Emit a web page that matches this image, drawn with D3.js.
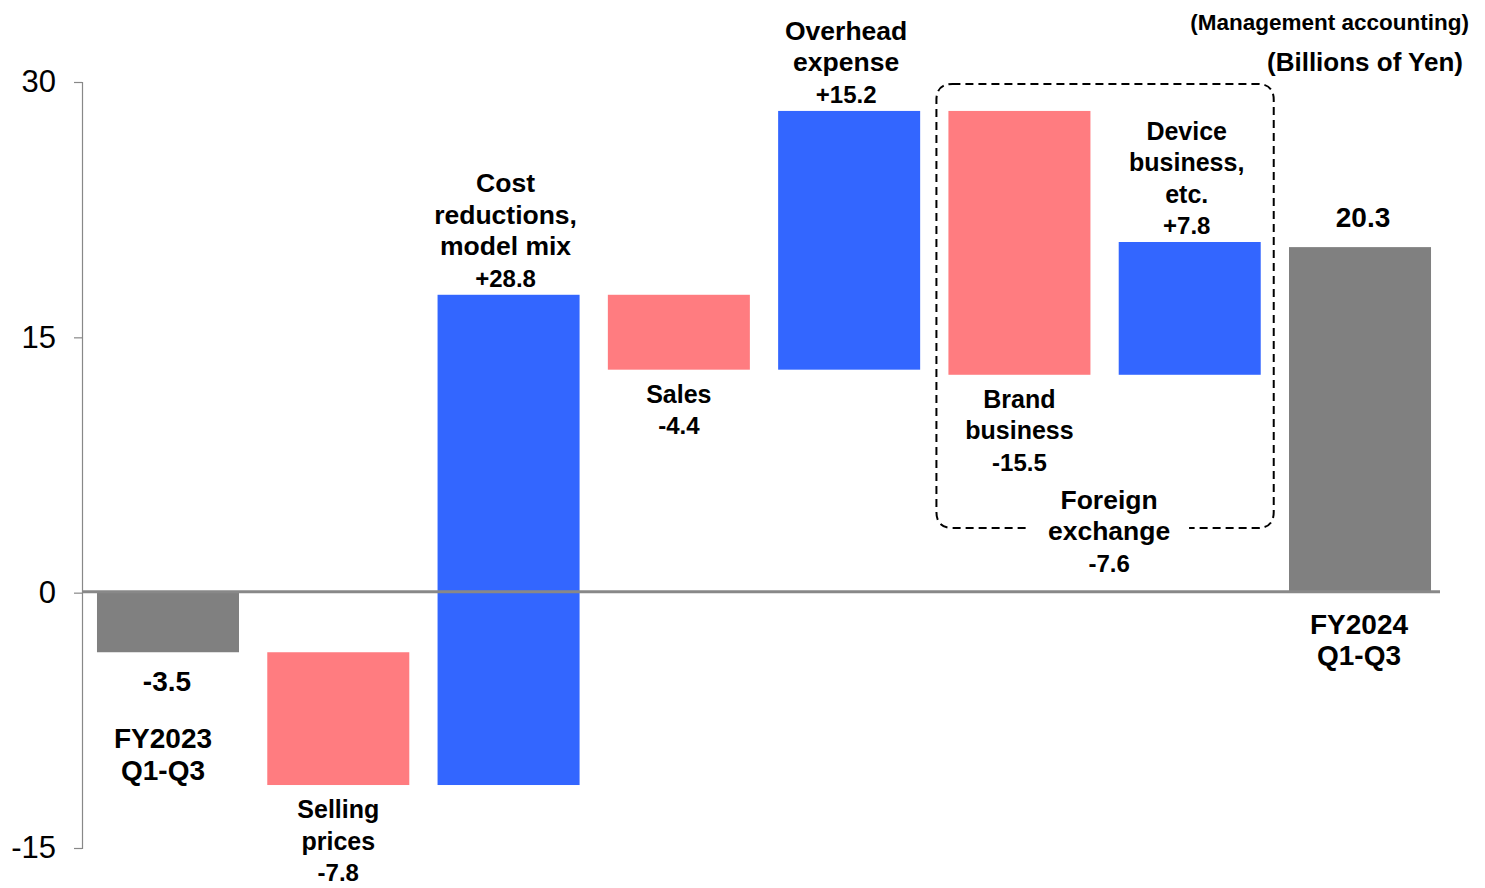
<!DOCTYPE html>
<html>
<head>
<meta charset="utf-8">
<script src="https://cdn.jsdelivr.net/npm/d3@7"></script>
<style>
  html, body { margin: 0; padding: 0; background: #fff; }
  svg text { font-family: "Liberation Sans", Arial, sans-serif; fill: #000; }
</style>
</head>
<body>
<svg id="chart" width="1485" height="888"></svg>
<script>
// Operating profit bridge, FY2023 Q1-Q3 -> FY2024 Q1-Q3 (billions of yen)
const categories = ["FY2023", "Selling prices", "Cost reductions", "Sales", "Overhead", "Brand business", "Device business", "FY2024"];
const deltas = [-3.5, -7.8, 28.8, -4.4, 15.2, -15.5, 7.8, 20.3];
const kinds = ["total", "decrease", "increase", "decrease", "increase", "decrease", "increase", "total"];
const nameLines = [
  ["FY2023", "Q1-Q3"],
  ["Selling", "prices"],
  ["Cost", "reductions,", "model mix"],
  ["Sales"],
  ["Overhead", "expense"],
  ["Brand", "business"],
  ["Device", "business,", "etc."],
  ["FY2024", "Q1-Q3"]
];
const fxLines = ["Foreign", "exchange"];
const fxValue = -7.6;
const yTicks = [-15, 0, 15, 30];

const colors = { total: "#808080", decrease: "#FF7C80", increase: "#3366FF" };
const nameSize = [28, 25, 26.5, 25, 26.5, 25, 25, 28];

// running start / end of each bar
let run = 0;
const bars = categories.map((c, i) => {
  let start, end;
  if (kinds[i] === "total") { start = 0; end = deltas[i]; run = deltas[i]; }
  else { start = run; end = run + deltas[i]; run = end; }
  return { cat: c, i, start, end, kind: kinds[i], v: deltas[i] };
});

const svg = d3.select("#chart");
const x = d3.scaleBand().domain(categories).range([82, 1446]).paddingInner(0.166).paddingOuter(0.088);
const y = d3.scaleLinear().domain([-15, 30]).range([848, 82]);

// plain hyphen for negatives
const fmt1 = v => (v < 0 ? "-" : "") + Math.abs(v).toFixed(1);
const fmtSigned = v => (v > 0 ? "+" : "") + fmt1(v);
const fmtInt = v => (v < 0 ? "-" : "") + Math.abs(v);

// y axis
const axis = svg.append("g").attr("transform", "translate(82,0)")
  .call(d3.axisLeft(y).tickValues(yTicks).tickSize(8).tickPadding(18).tickFormat(fmtInt));
axis.select(".domain").attr("stroke", "#888").attr("stroke-width", 1.2);
axis.selectAll(".tick line").attr("stroke", "#888").attr("stroke-width", 1.2);
axis.selectAll(".tick text").attr("font-size", 31).attr("font-family", "Liberation Sans, Arial, sans-serif").attr("fill", "#000");

// bars
svg.append("g").selectAll("rect").data(bars).join("rect")
  .attr("x", d => x(d.cat))
  .attr("width", x.bandwidth())
  .attr("y", d => y(Math.max(d.start, d.end)))
  .attr("height", d => Math.abs(y(d.start) - y(d.end)))
  .attr("fill", d => colors[d.kind]);

// zero line
svg.append("line").attr("x1", 82).attr("x2", 1440).attr("y1", y(0) - 1).attr("y2", y(0) - 1)
  .attr("stroke", "#888").attr("stroke-width", 3);

const LH = 31.5;

function block(g, cx, baseline, lines, sizes) {
  lines.forEach((t, k) => {
    g.append("text").attr("x", cx).attr("y", baseline + k * LH)
      .attr("text-anchor", "middle").attr("font-weight", "bold")
      .attr("font-size", sizes[k]).text(t);
  });
}

const labels = svg.append("g");
bars.forEach(d => {
  const cx = x(d.cat) + x.bandwidth() / 2;
  const top = y(Math.max(d.start, d.end));
  const bot = y(Math.min(d.start, d.end));
  const ns = nameSize[d.i];
  if (d.kind === "total" && d.v < 0) {
    block(labels, cx - 1, bot + 39, [fmt1(d.v)], [28]);
    block(labels, cx - 5, bot + 96, nameLines[d.i], [ns, ns]);
  } else if (d.kind === "total") {
    block(labels, cx + 3, top - 20, [fmt1(d.v)], [28]);
    block(labels, cx - 1, y(0) + 41, nameLines[d.i], [ns, ns]);
  } else if (d.kind === "increase") {
    const lines = nameLines[d.i].concat([fmtSigned(d.v)]);
    const sizes = nameLines[d.i].map(() => ns).concat([24]);
    block(labels, cx - 3, top - 8 - (lines.length - 1) * LH, lines, sizes);
  } else {
    const lines = nameLines[d.i].concat([fmtSigned(d.v)]);
    const sizes = nameLines[d.i].map(() => ns).concat([24]);
    block(labels, cx, bot + 33, lines, sizes);
  }
});

// foreign exchange group (brand + device business)
const b5 = bars[5], b6 = bars[6];
const bx0 = x(b5.cat) - 12, bx1 = x(b6.cat) + x.bandwidth() + 13;
const by0 = y(30) + 2, by1 = y(3.8);
const r = 16;
svg.insert("path", "g")
  .attr("d", `M${bx0 + r},${by0} H${bx1 - r} Q${bx1},${by0} ${bx1},${by0 + r} V${by1 - r} Q${bx1},${by1} ${bx1 - r},${by1} H${bx0 + r} Q${bx0},${by1} ${bx0},${by1 - r} V${by0 + r} Q${bx0},${by0} ${bx0 + r},${by0} Z`)
  .attr("fill", "none").attr("stroke", "#000").attr("stroke-width", 2).attr("stroke-dasharray", "8,5");
const fxCx = (bx0 + bx1) / 2 + 4;
const fxG = svg.append("g");
fxG.append("rect").attr("x", fxCx - 80).attr("y", by1 - 6).attr("width", 160).attr("height", 12).attr("fill", "#fff");
block(fxG, fxCx, by1 - 19, fxLines.concat([fmt1(fxValue)]), [26.5, 26.5, 24]);

// unit notes
svg.append("text").attr("x", 1469).attr("y", 30).attr("text-anchor", "end")
  .attr("font-weight", "bold").attr("font-size", 22.5).text("(Management accounting)");
svg.append("text").attr("x", 1463).attr("y", 71).attr("text-anchor", "end")
  .attr("font-weight", "bold").attr("font-size", 26).text("(Billions of Yen)");
</script>
</body>
</html>
